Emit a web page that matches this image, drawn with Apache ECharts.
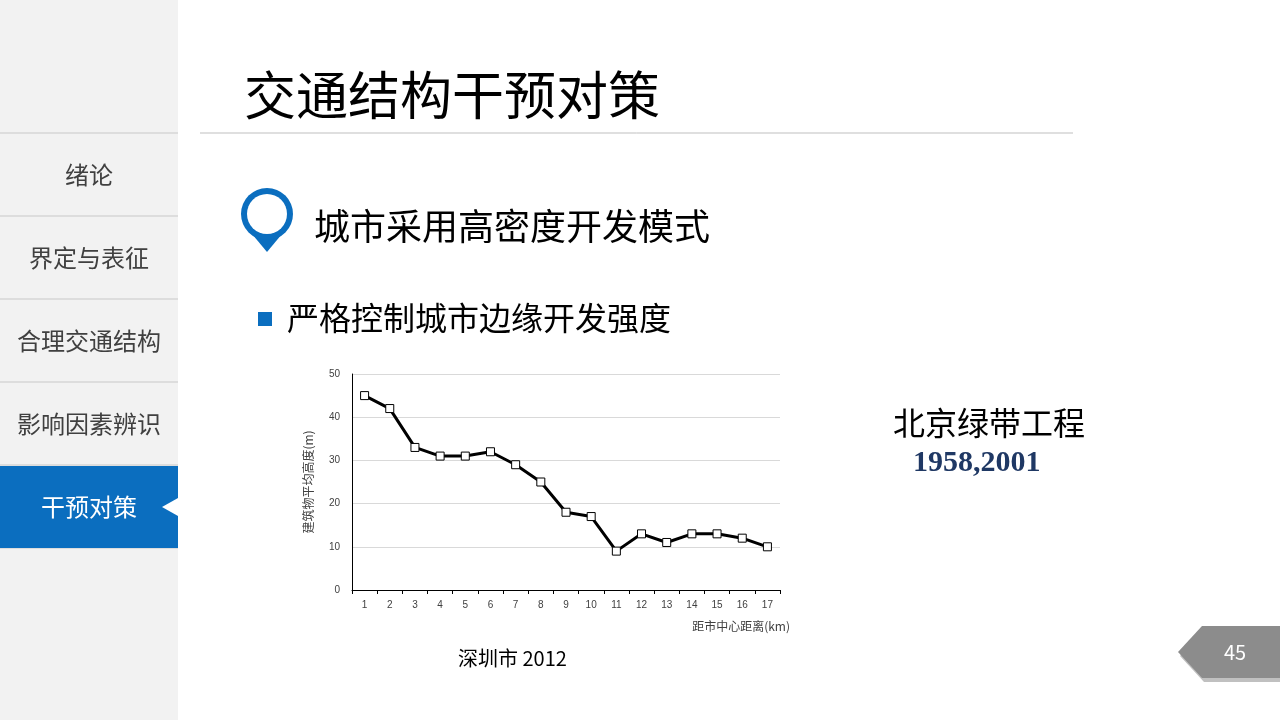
<!DOCTYPE html>
<html>
<head>
<meta charset="utf-8">
<script src="https://cdn.jsdelivr.net/npm/echarts@6/dist/echarts.min.js"></script>
<style>html,body{margin:0;padding:0;background:#fff}#main{width:1280px;height:720px}</style>
</head>
<body>
<div id="main"></div>
<script>
// 数据
var distances = ['1','2','3','4','5','6','7','8','9','10','11','12','13','14','15','16','17'];
var heights = [45, 42, 33, 31, 31, 32, 29, 25, 18, 17, 9, 13, 11, 13, 13, 12, 10];
var menuItems = ['绪论', '界定与表征', '合理交通结构', '影响因素辨识', '干预对策'];
var activeIndex = 4;

var FONT = '"Noto Sans CJK SC", "Microsoft YaHei", sans-serif';
var chart = echarts.init(document.getElementById('main'));

// 左侧菜单
var graphics = [
    {type: 'rect', shape: {x: 0, y: 0, width: 178, height: 720}, style: {fill: '#f2f2f2'}, z: 0}
];
menuItems.forEach(function(name, i){
    var top = 133 + i * 83;
    graphics.push({type: 'line', shape: {x1: 0, y1: top, x2: 178, y2: top}, style: {stroke: '#c8c8c8', lineWidth: 1}, z: 1});
    if (i === activeIndex){
        graphics.push({type: 'rect', shape: {x: 0, y: top + 1, width: 178, height: 82}, style: {fill: '#0b6ebf'}, z: 2});
        graphics.push({type: 'polygon', shape: {points: [[178, top + 33], [162, top + 42], [178, top + 51]]}, style: {fill: '#fff'}, z: 3});
    }
    graphics.push({type: 'text', x: 89, y: top + 42, style: {text: name, fill: i === activeIndex ? '#fff' : '#404040', font: '24px ' + FONT, align: 'center', verticalAlign: 'middle'}, z: 4});
});
graphics.push({type: 'line', shape: {x1: 0, y1: 548, x2: 178, y2: 548}, style: {stroke: '#c8c8c8', lineWidth: 1}, z: 1});

// 标题
graphics.push(
    {type: 'text', x: 244, y: 95, style: {text: '交通结构干预对策', fill: '#000', font: '52px ' + FONT, verticalAlign: 'middle'}},
    {type: 'line', shape: {x1: 200, y1: 133, x2: 1073, y2: 133}, style: {stroke: '#bfbfbf', lineWidth: 1}},
    // 定位图标
    {type: 'polygon', shape: {points: [[247, 228], [287, 228], [267, 252]]}, style: {fill: '#0b6ebf'}},
    {type: 'circle', shape: {cx: 267, cy: 214, r: 26}, style: {fill: '#0b6ebf'}},
    {type: 'circle', shape: {cx: 267, cy: 214, r: 20}, style: {fill: '#fff'}},
    {type: 'text', x: 314, y: 226, style: {text: '城市采用高密度开发模式', fill: '#000', font: '36px ' + FONT, verticalAlign: 'middle'}},
    {type: 'rect', shape: {x: 258, y: 312, width: 14, height: 14}, style: {fill: '#0b6ebf'}},
    {type: 'text', x: 287, y: 318, style: {text: '严格控制城市边缘开发强度', fill: '#000', font: '32px ' + FONT, verticalAlign: 'middle'}},
    {type: 'text', x: 893, y: 423, style: {text: '北京绿带工程', fill: '#000', font: '32px ' + FONT, verticalAlign: 'middle'}},
    {type: 'text', x: 913, y: 463, style: {text: '1958,2001', fill: '#1f3864', font: 'bold 30px "Liberation Serif", serif', verticalAlign: 'middle'}},
    {type: 'text', x: 458, y: 658, style: {text: '深圳市 2012', fill: '#000', font: '20px ' + FONT, verticalAlign: 'middle'}},
    // 页码
    {type: 'polygon', shape: {points: [[1280, 630], [1204, 630], [1180, 656], [1204, 682], [1280, 682]]}, style: {fill: '#c0c0c0'}},
    {type: 'polygon', shape: {points: [[1280, 626], [1202, 626], [1178, 652], [1202, 678], [1280, 678]]}, style: {fill: '#8c8c8c'}},
    {type: 'text', x: 1235, y: 652, style: {text: '45', fill: '#fff', font: '20px ' + FONT, align: 'center', verticalAlign: 'middle'}}
);

var option = {
    animation: false,
    grid: {left: 352, right: 500, top: 374, bottom: 130},
    xAxis: {
        type: 'category',
        data: distances,
        boundaryGap: true,
        name: '距市中心距离(km)',
        nameLocation: 'end',
        nameGap: 0,
        nameTextStyle: {color: '#404040', fontSize: 12, fontFamily: FONT, verticalAlign: 'top', align: 'right', padding: [30, -10, 0, 0]},
        axisLine: {lineStyle: {color: '#000', width: 1}},
        axisTick: {show: true, lineStyle: {color: '#000'}, length: 4},
        axisLabel: {color: '#404040', fontSize: 10, margin: 10, interval: 0}
    },
    yAxis: {
        type: 'value',
        min: 0, max: 50, interval: 10,
        name: '建筑物平均高度(m)',
        nameLocation: 'middle',
        nameGap: 38,
        nameRotate: 90,
        nameTextStyle: {color: '#404040', fontSize: 12, fontFamily: FONT},
        axisLine: {show: true, lineStyle: {color: '#000', width: 1}},
        axisTick: {show: false},
        axisLabel: {color: '#404040', fontSize: 10, margin: 12},
        splitLine: {lineStyle: {color: '#d9d9d9'}}
    },
    series: [{
        type: 'line',
        data: heights,
        symbol: 'rect',
        symbolSize: 8,
        lineStyle: {color: '#000', width: 3},
        itemStyle: {color: '#fff', borderColor: '#000', borderWidth: 1}
    }],
    graphic: graphics
};
chart.setOption(option);
</script>
</body>
</html>
